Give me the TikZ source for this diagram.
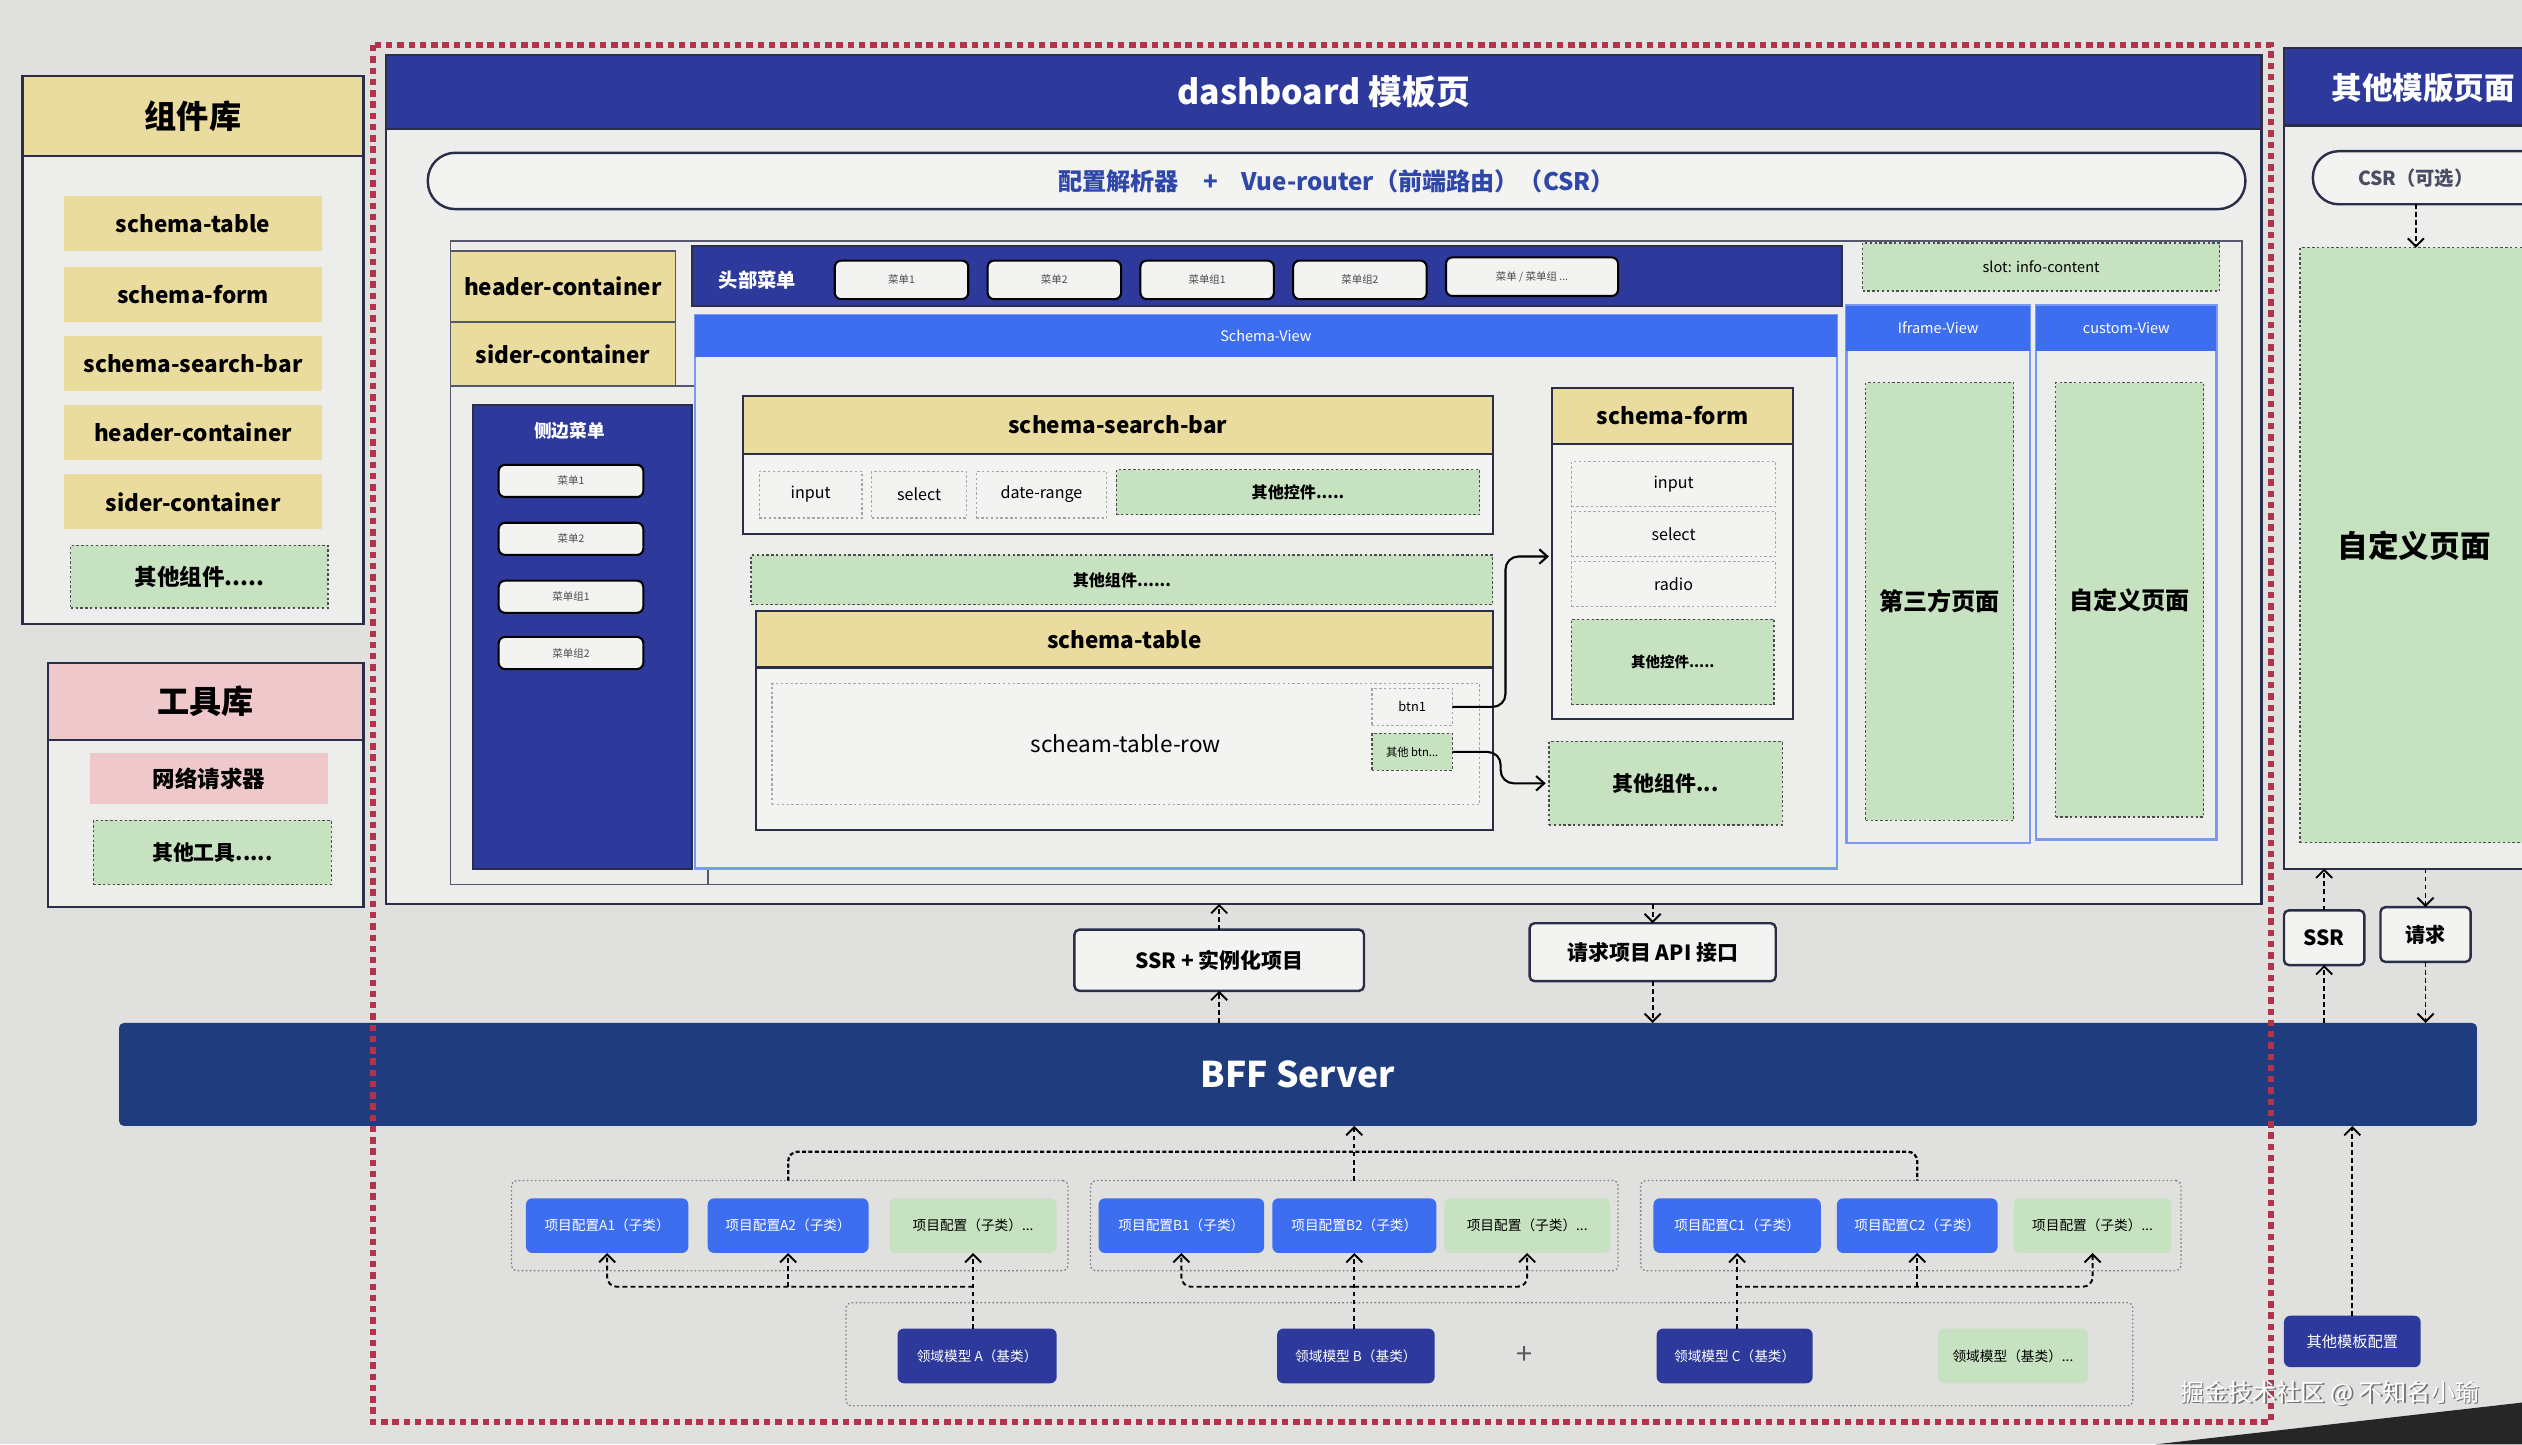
\documentclass[tikz,border=0pt]{standalone}
\usepackage{fontspec}
\setmainfont{Noto Sans CJK SC}
\usetikzlibrary{arrows.meta,calc}
\newcommand\myfs[1]{\fontsize{#1}{#1}\selectfont}
\definecolor{bgc}{HTML}{E0E0DE}
\definecolor{paper}{HTML}{EDEDEB}
\definecolor{paperb}{HTML}{F3F3F1}
\definecolor{navy}{HTML}{2D3A9B}
\definecolor{bffn}{HTML}{1F3C7E}
\definecolor{bright}{HTML}{3E6EF0}
\definecolor{yel}{HTML}{EADB9E}
\definecolor{grn}{HTML}{C7E2C1}
\definecolor{pnk}{HTML}{EEC8CA}
\definecolor{redd}{HTML}{B3344A}
\definecolor{lnc}{HTML}{2A2E48}
\definecolor{pilltxt}{HTML}{2F47A8}
\begin{document}
\begin{tikzpicture}[x=1pt,y=-1pt,
  rect/.style n args={4}{at={({(#1+#3)/2},{(#2+#4)/2})},minimum width={(#3)-(#1)},minimum height={(#4)-(#2)},inner sep=0pt,outer sep=0pt,anchor=center},
  frame/.style={draw=lnc,line width=1.3pt,fill=paper},
  yhead/.style={fill=yel,draw=lnc,line width=1.3pt,font=\bfseries\myfs{14}},
  ycell/.style={fill=yel,font=\bfseries\myfs{14}},
  gdash/.style={fill=grn,draw=gray!60!black,dash pattern=on 1.5pt off 1.5pt,line width=0.8pt,font=\bfseries\myfs{10}},
  idash/.style={draw=gray!70,dash pattern=on 1.5pt off 1.5pt,line width=0.8pt,font=\myfs{10}},
  menubtn/.style={fill=paperb,draw=black,line width=1.3pt,rounded corners=4pt,font=\myfs{6.5},text=gray!60!black},
  bluehead/.style={fill=bright,text=white,font=\myfs{9}},
  vframe/.style={draw=bright!70,line width=1.5pt,fill=paper},
  arr/.style={-{Straight Barb[length=5pt,width=9pt]},line width=1.3pt},
  darr/.style={-{Straight Barb[length=5pt,width=10pt]},line width=1.2pt,dash pattern=on 3pt off 2pt},
  dline/.style={line width=1.4pt,dash pattern=on 2.5pt off 1.5pt},
  pbox/.style={fill=bright,rounded corners=4pt,text=white,font=\myfs{8.5}},
  nbox/.style={fill=navy,rounded corners=4pt,text=white,font=\myfs{8.5}},
  gbox/.style={fill=grn,rounded corners=4pt,font=\myfs{8.5}},
  grpbox/.style={draw=gray,dash pattern=on 1pt off 1.5pt,line width=0.8pt,rounded corners=3pt},
  wbox/.style={fill=paperb,draw=lnc,line width=1.5pt,rounded corners=3pt,font=\bfseries\myfs{13}}
]
\fill[bgc] (0,0) rectangle (1568,898);
\useasboundingbox (0,0) rectangle (1568,898);

% ---------- left: component library ----------
\node[rect={14}{47}{226}{388},frame] (zjk) {};
\node[rect={14}{47}{226}{97},yhead,font=\bfseries\myfs{20}] (zjkh) {组件库};
\node[rect={40}{122}{200}{156},ycell] (l1) {schema-table};
\node[rect={40}{166}{200}{200},ycell] (l2) {schema-form};
\node[rect={40}{209}{200}{243},ycell] (l3) {schema-search-bar};
\node[rect={40}{252}{200}{286},ycell] (l4) {header-container};
\node[rect={40}{295}{200}{329},ycell] (l5) {sider-container};
\node[rect={44}{339}{204}{378},gdash,font=\bfseries\myfs{14}] (l6) {其他组件.....};

% ---------- left: tool library ----------
\node[rect={30}{412}{226}{564},frame] (gjk) {};
\node[rect={30}{412}{226}{460},fill=pnk,draw=lnc,line width=1.3pt,font=\bfseries\myfs{20}] (gjkh) {工具库};
\node[rect={56}{468}{204}{500},fill=pnk,font=\bfseries\myfs{14}] (t1) {网络请求器};
\node[rect={58}{510}{206}{550},gdash,font=\bfseries\myfs{13}] (t2) {其他工具.....};

% ---------- dashboard ----------
\node[rect={240}{34}{1406}{562},frame] (dash) {};
\node[rect={240}{34}{1406}{80},fill=navy,draw=lnc,line width=1.3pt,text=white,font=\bfseries\myfs{21}] (dashh) {dashboard 模板页};
\node[rect={266}{95}{1396}{130},fill=paperb,draw=lnc,line width=1.5pt,rounded corners=17pt,text=pilltxt,font=\bfseries\myfs{15}] (pill) {配置解析器\quad+\quad Vue-router（前端路由）（CSR）};
\node[rect={280}{150}{1394}{550},draw=lnc!80,line width=1pt,fill=paper] (inner) {};

\node[rect={280}{156}{420}{200},ycell,draw=lnc!80,line width=1pt] (hc) {header-container};
\node[rect={280}{200}{420}{240},ycell,draw=lnc!80,line width=1pt] (sc) {sider-container};
\node[rect={280}{240}{440}{550},draw=lnc!80,line width=1pt] (scol) {};
\node[rect={294}{252}{430}{540},fill=navy,draw=lnc,line width=1.3pt] (side) {};
\node[text=white,font=\bfseries\myfs{11}] (sidet) at (354,268) {侧边菜单};
\node[rect={310}{289}{400}{309},menubtn] (sm1) {菜单1};
\node[rect={310}{325}{400}{345},menubtn] (sm2) {菜单2};
\node[rect={310}{361}{400}{381},menubtn] (sm3) {菜单组1};
\node[rect={310}{396}{400}{416},menubtn] (sm4) {菜单组2};

\node[rect={430}{153}{1145}{190},fill=navy,draw=lnc,line width=1.2pt] (hbar) {};
\node[text=white,font=\bfseries\myfs{12}] (hbart) at (471,174) {头部菜单};
\node[rect={519}{162}{602}{186},menubtn] (hm1) {菜单1};
\node[rect={614}{162}{697}{186},menubtn] (hm2) {菜单2};
\node[rect={709}{162}{792}{186},menubtn] (hm3) {菜单组1};
\node[rect={804}{162}{887}{186},menubtn] (hm4) {菜单组2};
\node[rect={899}{160}{1006}{184},menubtn] (hm5) {菜单 / 菜单组 ...};
\node[rect={1158}{151}{1380}{181},gdash,font=\myfs{9}] (slot) {slot: info-content};

% views
\node[rect={432}{196}{1142}{540},vframe] (sv) {};
\node[rect={432}{196}{1142}{222},bluehead] (svh) {Schema-View};
\node[rect={1148}{190}{1262}{524},vframe] (ifv) {};
\node[rect={1148}{190}{1262}{218},bluehead] (ifvh) {Iframe-View};
\node[rect={1160}{238}{1252}{510},gdash,font=\bfseries\myfs{15}] (third) {第三方页面};
\node[rect={1266}{190}{1378}{522},vframe] (cv) {};
\node[rect={1266}{190}{1378}{218},bluehead] (cvh) {custom-View};
\node[rect={1278}{238}{1370}{508},gdash,font=\bfseries\myfs{15}] (cust) {自定义页面};

% schema-search-bar
\node[rect={462}{246}{928}{332},fill=paperb,draw=lnc,line width=1.3pt] (ssb) {};
\node[rect={462}{246}{928}{282},yhead] (ssbh) {schema-search-bar};
\node[rect={472}{293}{536}{322},idash] (si1) {input};
\node[rect={542}{293}{601}{322},idash] (si2) {select};
\node[rect={607}{293}{688}{322},idash] (si3) {date-range};
\node[rect={694}{292}{920}{320},gdash] (si4) {其他控件.....};
\node[rect={467}{345}{928}{376},gdash] (oc1) {其他组件......};

% schema-table
\node[rect={470}{380}{928}{516},fill=paperb,draw=lnc,line width=1.3pt] (st) {};
\node[rect={470}{380}{928}{415},yhead] (sth) {schema-table};
\node[rect={480}{425}{920}{500},idash,font=\myfs{14}] (row) {scheam-table-row};
\node[rect={853}{428}{903}{451},idash,font=\myfs{8}] (btn1) {btn1};
\node[rect={853}{456}{903}{479},gdash,font=\myfs{7}] (obtn) {其他 btn...};

% schema-form
\node[rect={965}{241}{1115}{447},fill=paperb,draw=lnc,line width=1.3pt] (sf) {};
\node[rect={965}{241}{1115}{276},yhead] (sfh) {schema-form};
\node[rect={977}{287}{1104}{315},idash] (sf1) {input};
\node[rect={977}{318}{1104}{346},idash] (sf2) {select};
\node[rect={977}{349}{1104}{377},idash] (sf3) {radio};
\node[rect={977}{385}{1103}{438},gdash,font=\bfseries\myfs{9}] (sf4) {其他控件.....};
\node[rect={963}{461}{1108}{513},gdash,font=\bfseries\myfs{13}] (oc2) {其他组件...};

\draw[arr,rounded corners=8pt,shorten >=2pt] (btn1.east) -- ++(33,0) |- (sf2.south -| sf.west);
\draw[arr,rounded corners=8pt,shorten >=2pt] (obtn.east) -- ++(30,0) |- (oc2.west);

% ---------- right: other template pages ----------
\node[rect={1420}{30}{1590}{540},frame] (oth) {};
\node[rect={1420}{30}{1590}{78},fill=navy,draw=lnc,line width=1.3pt] (othh) {};
\node[anchor=west,text=white,font=\bfseries\myfs{19}] (otht) at (1446,55) {其他模版页面};
\node[rect={1438}{94}{1600}{127},fill=paperb,draw=lnc,line width=1.5pt,rounded corners=16pt] (csr) {};
\node[font=\bfseries\myfs{12},text=lnc!85] (csrt) at (1502,111) {CSR（可选）};
\node[rect={1430}{154}{1572}{524},gdash,font=\bfseries\myfs{19}] (cpage) {自定义页面};
\draw[darr] (csrt |- csr.south) -- (csrt |- cpage.north);

% ---------- middle ----------
\node[rect={74}{636}{1540}{700},fill=bffn,rounded corners=3pt,text=white,font=\bfseries\myfs{22}] (bff) {BFF Server};
\node[rect={668}{578}{848}{616},wbox] (ssrbox) {SSR + 实例化项目};
\node[rect={951}{574}{1104}{610},wbox] (reqbox) {请求项目 API 接口};
\draw[darr] (ssrbox.north) -- (ssrbox.north |- dash.south);
\draw[darr] (ssrbox.south |- bff.north) -- (ssrbox.south);
\draw[darr] (reqbox.north |- dash.south) -- (reqbox.north);
\draw[darr] (reqbox.south) -- (reqbox.south |- bff.north);

\node[rect={1420}{566}{1470}{600},wbox] (ssrr) {SSR};
\node[rect={1480}{564}{1536}{598},wbox,font=\bfseries\myfs{12.5}] (reqr) {请求};
\draw[darr] (ssrr.north) -- (ssrr.north |- oth.south);
\draw[darr] (ssrr.south |- bff.north) -- (ssrr.south);
\draw[darr] (reqr.north |- oth.south) -- (reqr.north);
\draw[darr] (reqr.south) -- (reqr.south |- bff.north);

\node[rect={1420}{818}{1505}{850},nbox,font=\myfs{9.5}] (otc) {其他模板配置};
\draw[darr] (otc.north) -- (otc.north |- bff.south);

% ---------- bottom ----------
\coordinate (htop) at (0,716);
\coordinate (hbot) at (0,800);
\node[rect={318}{734}{664}{790},grpbox] (grpA) {};
\node[rect={327}{745}{428}{779},pbox] (A1) {项目配置A1（子类）};
\node[rect={440}{745}{540}{779},pbox] (A2) {项目配置A2（子类）};
\node[rect={553}{745}{657}{779},gbox] (Ae) {项目配置（子类）...};
\node[rect={678}{734}{1006}{790},grpbox] (grpB) {};
\node[rect={683}{745}{786}{779},pbox] (B1) {项目配置B1（子类）};
\node[rect={791}{745}{893}{779},pbox] (B2) {项目配置B2（子类）};
\node[rect={898}{745}{1001}{779},gbox] (Be) {项目配置（子类）...};
\node[rect={1020}{734}{1356}{790},grpbox] (grpC) {};
\node[rect={1028}{745}{1132}{779},pbox] (C1) {项目配置C1（子类）};
\node[rect={1142}{745}{1242}{779},pbox] (C2) {项目配置C2（子类）};
\node[rect={1252}{745}{1350}{779},gbox] (Ce) {项目配置（子类）...};

\node[rect={526}{810}{1326}{874},grpbox] (base) {};
\node[rect={558}{826}{657}{860},nbox] (baseA) {领域模型 A（基类）};
\node[rect={794}{826}{892}{860},nbox] (baseB) {领域模型 B（基类）};
\node[text=gray!70!black,font=\myfs{18}] (plus) at (948,843) {+};
\node[rect={1030}{826}{1127}{860},nbox] (baseC) {领域模型 C（基类）};
\node[rect={1205}{826}{1298}{860},gbox] (baseE) {领域模型（基类）...};

\draw[dline,rounded corners=6pt] (grpA.north -| A2) -- (A2 |- htop) -- (C2 |- htop) -- (grpC.north -| C2);
\draw[darr] (grpB.north -| B2) -- (B2 |- bff.south);

\draw[darr] (Ae.south |- baseA.north) -- (Ae.south);
\draw[darr,rounded corners=6pt] (Ae.south |- hbot) -| (A1.south);
\draw[darr] (A2.south |- hbot) -- (A2.south);
\draw[darr] (B2.south |- baseB.north) -- (B2.south);
\draw[darr,rounded corners=6pt] (B2.south |- hbot) -| (B1.south);
\draw[darr,rounded corners=6pt] (B2.south |- hbot) -| (Be.south);
\draw[darr] (C1.south |- baseC.north) -- (C1.south);
\draw[darr,rounded corners=6pt] (C1.south |- hbot) -| (Ce.south);
\draw[darr] (C2.south |- hbot) -- (C2.south);

% ---------- red boundary ----------
\draw[redd,line width=3.5pt,dash pattern=on 4pt off 3pt] (232,28) rectangle (1412,884);

% ---------- photo edge and watermark ----------
\fill[black!85] (1340,898) -- (1568,872) -- (1568,898) -- cycle;
\node[anchor=east,text=black!55,font=\myfs{15}] (wms) at (1546,867) {掘金技术社区 @ 不知名小瑜};
\node[anchor=east,text=white,font=\myfs{15}] (wm) at (1545,866) {掘金技术社区 @ 不知名小瑜};
\end{tikzpicture}
\end{document}
